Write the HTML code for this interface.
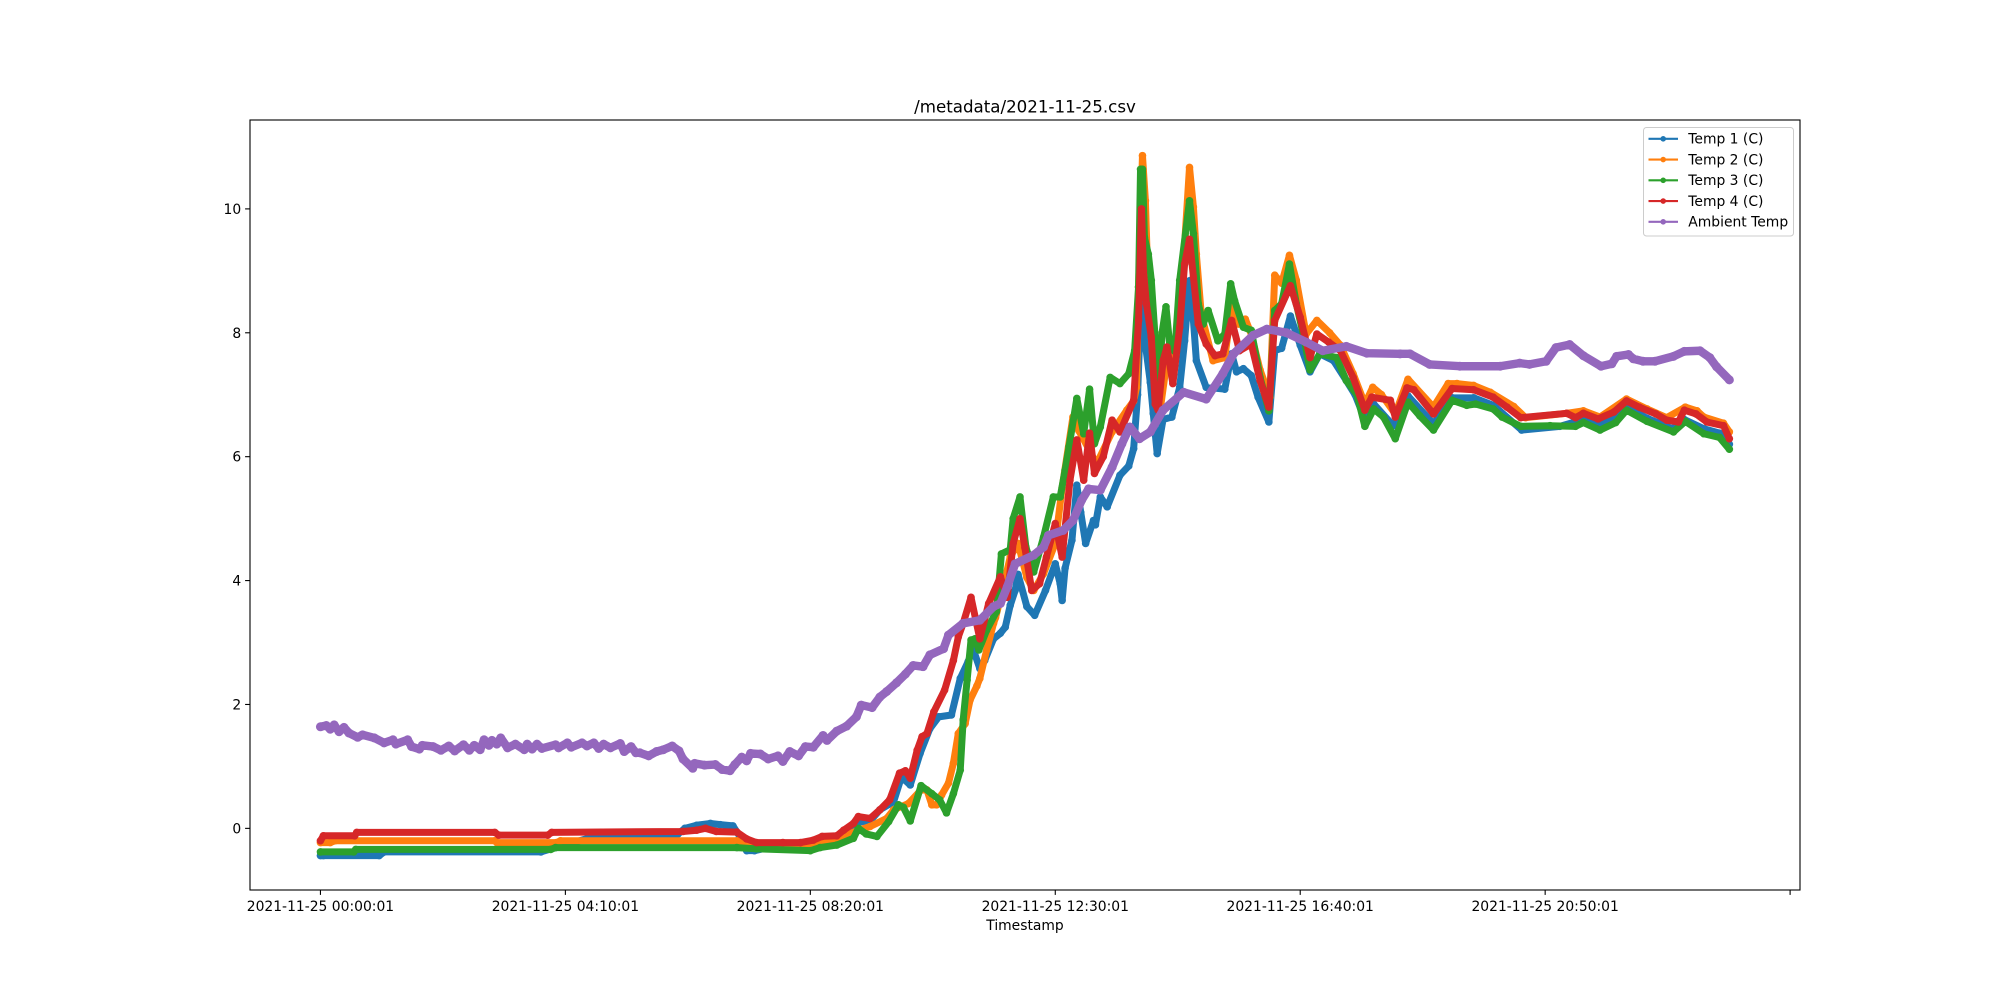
<!DOCTYPE html>
<html lang="en">
<head>
<meta charset="utf-8">
<title>/metadata/2021-11-25.csv</title>
<style>
html,body{margin:0;padding:0;background:#fff;width:2000px;height:1000px;overflow:hidden}
svg{display:block}
text{font-family:"DejaVu Sans","Liberation Sans",sans-serif;fill:#000}
</style>
</head>
<body>
<svg id="chart" xmlns="http://www.w3.org/2000/svg" width="2000" height="1000" viewBox="0 0 2000 1000">
  <rect x="0" y="0" width="2000" height="1000" fill="#fff"/>
  <text x="1025" y="112.5" font-size="16.67" text-anchor="middle">/metadata/2021-11-25.csv</text>
  <g id="series-layer"></g>
  <rect x="250" y="120" width="1550" height="770" fill="none" stroke="#000" stroke-width="1.1"/>
  <g id="x-axis"></g>
  <g id="y-axis"></g>
  <text x="1025" y="930" font-size="13.89" text-anchor="middle">Timestamp</text>
  <g id="legend"></g>
</svg>
<script>
const xTickMinutes = [0, 250, 500, 750, 1000, 1250, 1500];
const xTickLabels = ['2021-11-25 00:00:01', '2021-11-25 04:10:01', '2021-11-25 08:20:01', '2021-11-25 12:30:01', '2021-11-25 16:40:01', '2021-11-25 20:50:01', ''];
const yTickValues = [0, 2, 4, 6, 8, 10];
const seriesNames = ['Temp 1 (C)', 'Temp 2 (C)', 'Temp 3 (C)', 'Temp 4 (C)', 'Ambient Temp'];

const temp1Minutes = [0,3,60,65,225,240,280,326,365,372,384,398,408,421,428,435,443,460,476,500,512,530,549,561,571,585,593,602,612,622,631,644,653,661,666,673,678,687,694,699,704,709,712,721,729,740,750,755,757,760,767,772,776,781,789,791,796,803,816,825,830,834,838,841,847,850,854,860,869,877,882,887,891,894,904,923,930,935,942,950,957,968,974,981,990,1000,1010,1020,1034,1047,1056,1066,1075,1095,1110,1136,1155,1177,1197,1226,1265,1289,1306,1333,1354,1380,1392,1412,1428,1438];
const temp1Values = [-0.44,-0.44,-0.44,-0.38,-0.38,-0.31,-0.13,-0.09,-0.09,0.00,0.05,0.08,0.06,0.04,-0.13,-0.36,-0.36,-0.30,-0.33,-0.33,-0.25,-0.20,0.10,0.12,0.30,0.43,0.83,0.70,1.21,1.61,1.80,1.83,2.42,2.69,2.90,2.58,2.71,3.06,3.15,3.25,3.60,3.84,4.10,3.58,3.44,3.84,4.27,3.95,3.68,4.20,4.65,5.54,5.10,4.60,4.97,4.90,5.35,5.19,5.70,5.85,6.13,7.00,8.68,7.93,7.20,6.70,6.05,6.60,6.64,7.12,7.87,8.84,8.20,7.55,7.12,7.09,7.66,7.37,7.42,7.31,6.96,6.56,7.71,7.75,8.27,7.80,7.37,7.66,7.55,7.23,7.00,6.60,6.85,6.50,6.98,6.53,6.95,6.95,6.83,6.43,6.49,6.60,6.50,6.80,6.62,6.45,6.60,6.45,6.38,6.20];

const temp2Minutes = [0,10,15,178,180,241,245,425,435,500,527,549,561,578,585,600,613,619,624,629,634,641,646,651,658,663,670,673,680,687,689,697,704,712,721,728,738,750,757,768,774,785,792,808,823,830,833,835,839,842,845,852,857,864,870,877,882,887,891,894,899,911,923,930,937,944,950,959,969,974,981,989,996,1006,1017,1030,1041,1054,1066,1074,1083,1097,1110,1136,1151,1160,1177,1194,1218,1230,1272,1289,1306,1333,1354,1374,1393,1405,1412,1432,1438];
const temp2Values = [-0.23,-0.23,-0.20,-0.20,-0.23,-0.23,-0.20,-0.20,-0.25,-0.25,-0.17,-0.03,0.03,0.16,0.30,0.40,0.62,0.62,0.38,0.38,0.54,0.73,1.05,1.53,1.69,2.07,2.30,2.42,2.88,3.31,3.40,3.90,4.38,4.60,4.05,3.84,4.11,4.60,5.50,6.64,6.42,6.10,5.88,6.40,6.75,6.90,7.12,8.74,10.86,10.13,8.62,7.00,6.75,7.55,7.28,8.47,9.43,10.67,10.03,9.27,8.30,7.55,7.60,8.42,8.14,8.22,7.98,7.40,6.96,8.93,8.80,9.25,8.85,7.98,8.20,8.00,7.80,7.34,6.85,7.12,7.00,6.69,7.25,6.80,7.18,7.18,7.15,7.04,6.81,6.63,6.70,6.74,6.64,6.93,6.77,6.63,6.80,6.74,6.64,6.54,6.40];

const temp3Minutes = [0,34,36,235,240,425,445,500,510,527,544,549,557,568,580,590,595,602,613,624,632,639,646,653,656,660,664,668,672,680,690,695,704,707,714,720,728,738,748,755,760,764,772,779,785,790,796,806,816,825,831,835,837,839,841,845,848,852,855,859,863,867,872,877,887,891,896,901,906,916,923,929,933,942,950,959,968,974,981,989,996,1003,1010,1020,1037,1047,1058,1066,1075,1085,1097,1110,1122,1136,1155,1170,1179,1197,1206,1225,1255,1281,1289,1306,1322,1333,1354,1381,1393,1412,1428,1438];
const temp3Values = [-0.38,-0.38,-0.34,-0.34,-0.31,-0.31,-0.33,-0.36,-0.31,-0.27,-0.16,0.00,-0.09,-0.13,0.11,0.38,0.34,0.12,0.69,0.56,0.46,0.25,0.56,0.94,1.75,2.39,3.04,3.06,2.88,3.20,3.50,4.43,4.50,5.00,5.35,4.54,4.14,4.70,5.35,5.35,5.78,6.16,6.94,6.37,7.09,6.21,6.48,7.28,7.18,7.34,7.71,8.74,10.64,10.64,9.54,9.27,8.85,7.90,6.96,8.00,8.42,7.77,7.70,8.85,10.13,9.60,8.47,8.14,8.36,7.87,7.98,8.79,8.52,8.09,8.04,7.28,6.74,8.36,8.47,9.11,8.47,7.98,7.40,7.66,7.60,7.23,7.00,6.49,6.77,6.64,6.29,6.88,6.66,6.43,6.91,6.83,6.85,6.77,6.64,6.49,6.50,6.49,6.55,6.43,6.55,6.75,6.57,6.40,6.57,6.37,6.31,6.12];

const temp4Minutes = [0,3,35,37,178,182,232,236,370,384,393,404,425,435,445,472,490,503,512,527,534,544,549,561,571,581,591,597,602,609,614,619,626,637,646,651,656,664,673,682,694,701,707,714,719,726,734,741,750,757,765,772,779,785,790,799,808,816,830,835,838,840,843,848,852,855,860,864,870,877,882,887,891,896,904,913,921,930,938,950,959,968,974,990,1000,1010,1017,1029,1041,1054,1066,1073,1092,1097,1109,1116,1136,1155,1177,1197,1211,1225,1272,1281,1289,1304,1320,1333,1346,1363,1374,1386,1392,1404,1415,1432,1438];
const temp4Values = [-0.20,-0.12,-0.12,-0.065,-0.065,-0.11,-0.11,-0.065,-0.05,-0.03,0.00,-0.05,-0.06,-0.17,-0.23,-0.23,-0.23,-0.19,-0.13,-0.12,-0.03,0.08,0.19,0.16,0.30,0.46,0.89,0.93,0.81,1.26,1.48,1.53,1.88,2.23,2.71,3.09,3.31,3.73,3.06,3.63,4.06,3.73,4.60,5.00,4.53,3.84,3.95,4.38,4.92,4.38,5.62,6.27,5.62,6.38,5.73,6.00,6.59,6.40,6.91,8.20,10.00,9.00,8.47,7.93,6.85,6.75,7.55,7.77,7.18,8.09,9.11,9.51,8.90,8.14,7.82,7.63,7.66,8.20,7.71,7.82,7.23,6.80,8.20,8.76,8.25,7.60,7.98,7.85,7.71,7.28,6.75,6.96,6.91,6.64,7.11,7.08,6.69,7.10,7.08,6.96,6.80,6.63,6.70,6.63,6.70,6.61,6.72,6.90,6.80,6.69,6.59,6.56,6.75,6.69,6.56,6.50,6.29];

const ambientMinutes = [0,6,10,14,19,24,29,38,43,55,65,74,77,89,93,101,104,115,123,131,137,146,152,157,163,167,172,175,180,184,191,199,208,211,216,221,226,240,243,252,256,267,272,279,284,289,296,306,310,317,322,326,335,343,350,359,366,370,380,382,392,403,410,418,423,430,435,439,449,457,467,472,479,488,495,503,513,517,527,537,547,552,563,571,578,588,597,605,615,622,636,641,656,673,687,694,701,709,728,738,743,758,768,777,784,796,808,818,826,836,847,860,881,904,921,932,952,966,986,1006,1023,1047,1068,1102,1112,1132,1163,1204,1224,1234,1251,1261,1275,1289,1307,1318,1323,1335,1340,1350,1362,1381,1392,1408,1418,1425,1438];
const ambientValues = [1.64,1.66,1.60,1.67,1.56,1.63,1.54,1.47,1.51,1.46,1.38,1.43,1.36,1.43,1.32,1.28,1.34,1.32,1.26,1.33,1.25,1.35,1.26,1.34,1.27,1.43,1.34,1.42,1.36,1.46,1.30,1.36,1.27,1.36,1.28,1.36,1.29,1.35,1.30,1.38,1.31,1.38,1.33,1.38,1.29,1.36,1.30,1.37,1.24,1.32,1.22,1.22,1.17,1.24,1.27,1.33,1.25,1.12,0.97,1.05,1.02,1.03,0.95,0.93,1.03,1.15,1.09,1.21,1.20,1.12,1.17,1.08,1.24,1.17,1.32,1.31,1.50,1.42,1.57,1.65,1.80,1.99,1.95,2.12,2.21,2.35,2.49,2.63,2.61,2.80,2.90,3.12,3.31,3.36,3.58,3.63,3.90,4.27,4.41,4.54,4.73,4.81,4.97,5.30,5.48,5.46,5.83,6.21,6.48,6.29,6.40,6.75,7.04,6.93,7.34,7.66,7.96,8.06,8.00,7.85,7.71,7.78,7.67,7.66,7.66,7.49,7.46,7.46,7.51,7.49,7.54,7.76,7.81,7.63,7.46,7.50,7.62,7.65,7.58,7.54,7.54,7.62,7.70,7.71,7.60,7.45,7.24];

const seriesMinutes = [temp1Minutes, temp2Minutes, temp3Minutes, temp4Minutes, ambientMinutes];
const seriesValues = [temp1Values, temp2Values, temp3Values, temp4Values, ambientValues];
const seriesColors = ['#1f77b4', '#ff7f0e', '#2ca02c', '#d62728', '#9467bd'];

const SVG_NS = 'http://www.w3.org/2000/svg';
const plot = {left: 250, right: 1800, top: 120, bottom: 890};
const xDomain = [-71.9, 1510.1];
const yDomain = [-0.995, 11.435];

function xScale(minute) {
  return plot.left + (minute - xDomain[0]) / (xDomain[1] - xDomain[0]) * (plot.right - plot.left);
}
function yScale(value) {
  return plot.bottom - (value - yDomain[0]) / (yDomain[1] - yDomain[0]) * (plot.bottom - plot.top);
}
function make(tag, attrs, parent) {
  const el = document.createElementNS(SVG_NS, tag);
  for (const key in attrs) el.setAttribute(key, attrs[key]);
  parent.appendChild(el);
  return el;
}
function slug(text) {
  return text.toLowerCase().replace(/[^a-z0-9]+/g, '-').replace(/^-|-$/g, '');
}

const seriesLayer = document.getElementById('series-layer');
seriesNames.forEach(function (name, s) {
  const bandWidth = s === 4 ? 8.4 : 7;
  const group = make('g', {}, seriesLayer);
  
  
  const pts = seriesMinutes[s].map(function (m, i) {
    return xScale(m).toFixed(2) + ',' + yScale(seriesValues[s][i]).toFixed(2);
  }).join(' ');
  const line = make('polyline', {points: pts, fill: 'none', stroke: seriesColors[s], 'stroke-width': bandWidth, 'stroke-linejoin': 'round', 'stroke-linecap': 'round'}, group);
  
  
  seriesMinutes[s].forEach(function (m, i) {
    const dot = make('circle', {cx: xScale(m).toFixed(2), cy: yScale(seriesValues[s][i]).toFixed(2), r: bandWidth / 2 + 0.3, fill: seriesColors[s]}, group);
    
    
  });
});

const xAxis = document.getElementById('x-axis');
xTickMinutes.forEach(function (m, i) {
  const x = xScale(m);
  const tick = make('line', {x1: x, x2: x, y1: plot.bottom, y2: plot.bottom + 4.9, stroke: '#000', 'stroke-width': 1.1}, xAxis);
  
  
  if (xTickLabels[i]) {
    const label = make('text', {x: x, y: 911, 'font-size': 13.89, 'text-anchor': 'middle'}, xAxis);
    label.textContent = xTickLabels[i];
    
    
  }
});

const yAxis = document.getElementById('y-axis');
yTickValues.forEach(function (v) {
  const y = yScale(v);
  const tick = make('line', {x1: plot.left - 4.9, x2: plot.left, y1: y, y2: y, stroke: '#000', 'stroke-width': 1.1}, yAxis);
  
  
  const label = make('text', {x: plot.left - 8.8, y: y + 5, 'font-size': 13.89, 'text-anchor': 'end'}, yAxis);
  label.textContent = String(v);
  
  
});

const legend = document.getElementById('legend');
const legendBox = make('rect', {x: 1643.5, y: 127.5, width: 150, height: 108.5, rx: 3, ry: 3, fill: '#fff', 'fill-opacity': 0.8, stroke: '#ccc', 'stroke-width': 1}, legend);


seriesNames.forEach(function (name, s) {
  const rowY = 138.8 + s * 20.75;
  const entry = make('g', {}, legend);
  
  
  make('line', {x1: 1648.5, x2: 1678, y1: rowY, y2: rowY, stroke: seriesColors[s], 'stroke-width': 2.1}, entry);
  make('circle', {cx: 1663.2, cy: rowY, r: 2.8, fill: seriesColors[s]}, entry);
  const label = make('text', {x: 1688.3, y: rowY + 4.7, 'font-size': 13.89}, entry);
  label.textContent = name;
});
</script>
</body>
</html>
